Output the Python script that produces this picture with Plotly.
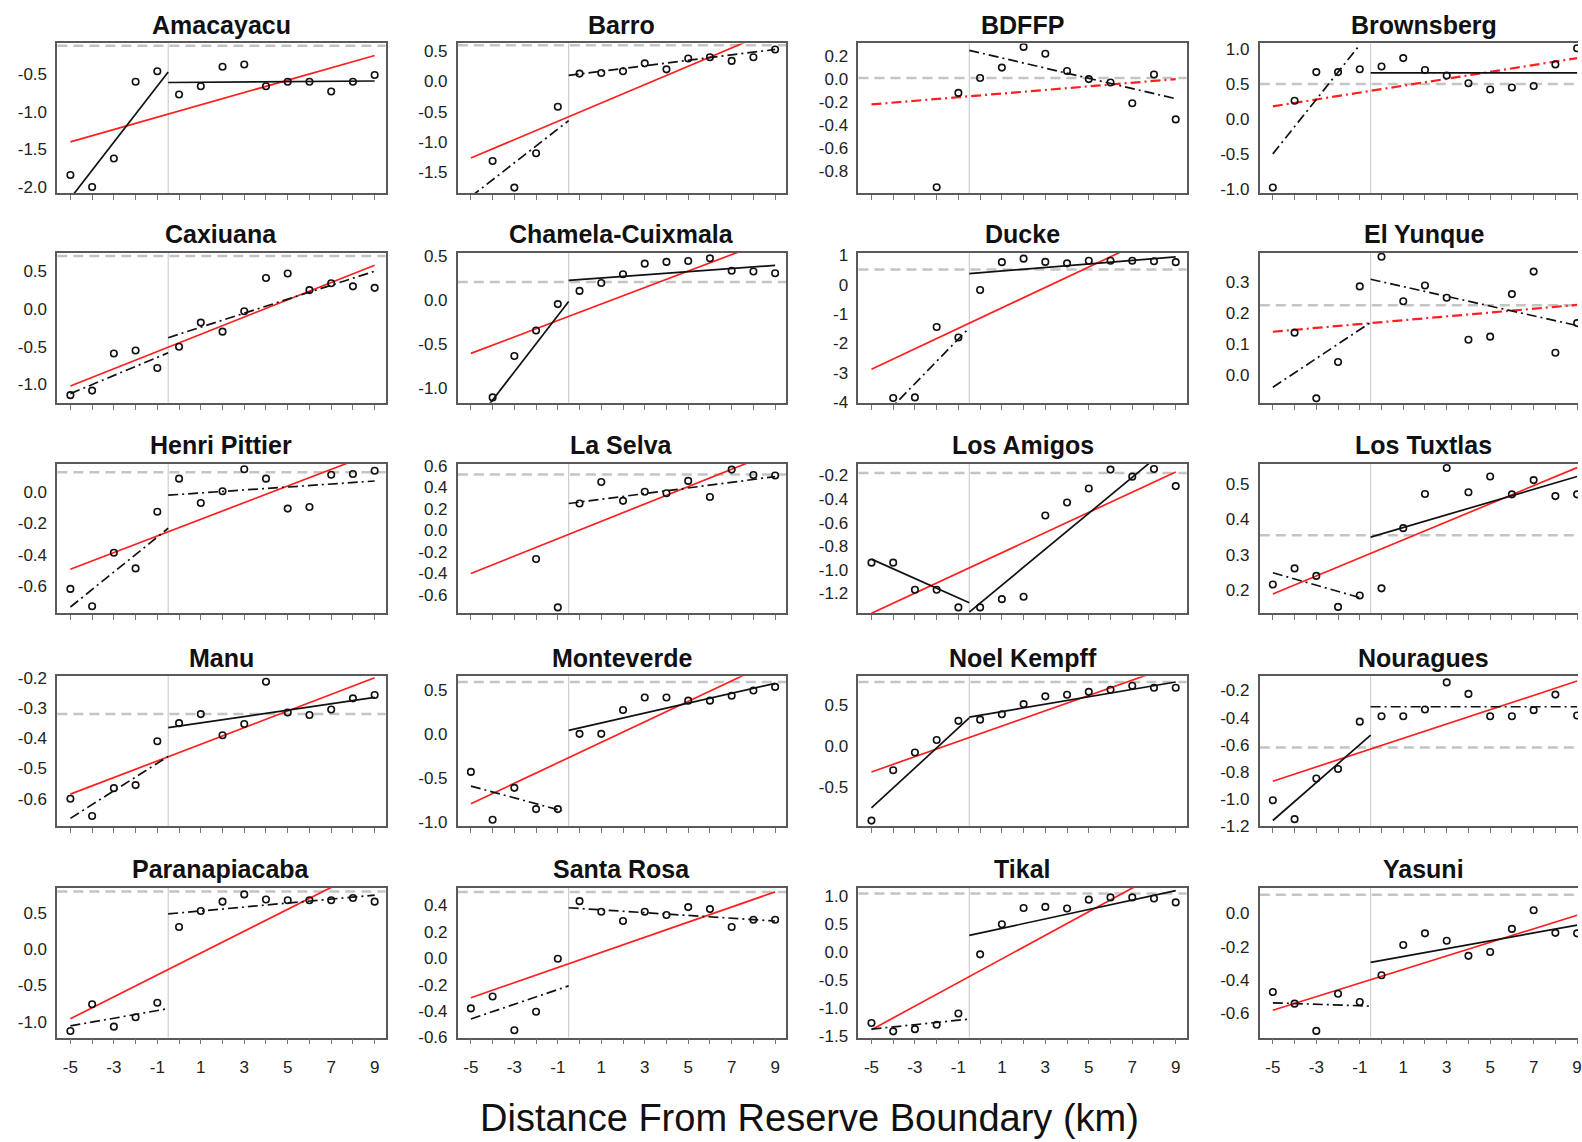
import plotly.graph_objects as go

# ---------------- data ----------------
sites = ["Amacayacu", "Barro", "BDFFP", "Brownsberg",
         "Caxiuana", "Chamela-Cuixmala", "Ducke", "El Yunque",
         "Henri Pittier", "La Selva", "Los Amigos", "Los Tuxtlas",
         "Manu", "Monteverde", "Noel Kempff", "Nouragues",
         "Paranapiacaba", "Santa Rosa", "Tikal", "Yasuni"]

distance_km = [-5, -4, -3, -2, -1, 0, 1, 2, 3, 4, 5, 6, 7, 8, 9]
boundary_km = -0.5
x_tick_text = ["-5", "", "-3", "", "-1", "", "1", "", "3", "", "5", "", "7", "", "9"]
x_axis_title = "Distance From Reserve Boundary (km)"

amacayacu = [-1.84, -2.00, -1.62, -0.60, -0.46, -0.77, -0.66, -0.40, -0.37, -0.66, -0.60, -0.60, -0.73, -0.60, -0.51]
barro = [None, -1.32, -1.76, -1.19, -0.42, 0.13, 0.14, 0.17, 0.30, 0.20, 0.38, 0.40, 0.34, 0.40, 0.53]
bdffp = [None, None, None, -0.94, -0.12, 0.01, 0.10, 0.28, 0.22, 0.07, 0.00, -0.03, -0.21, 0.04, -0.35]
brownsberg = [-0.98, 0.26, 0.67, 0.67, 0.71, 0.75, 0.87, 0.70, 0.62, 0.51, 0.42, 0.45, 0.47, 0.78, 1.01]
caxiuana = [-1.14, -1.08, -0.59, -0.55, -0.78, -0.50, -0.18, -0.30, -0.03, 0.41, 0.47, 0.25, 0.34, 0.30, 0.28]
chamela = [None, -1.11, -0.64, -0.35, -0.05, 0.10, 0.19, 0.29, 0.41, 0.43, 0.44, 0.47, 0.33, 0.32, 0.30]
ducke = [None, -3.86, -3.84, -1.44, -1.80, -0.18, 0.77, 0.89, 0.78, 0.73, 0.82, 0.82, 0.82, 0.80, 0.77]
el_yunque = [None, 0.137, -0.076, 0.042, 0.287, 0.383, 0.239, 0.290, 0.250, 0.114, 0.124, 0.262, 0.335, 0.072, 0.168]
henri_pittier = [-0.615, -0.725, -0.385, -0.485, -0.125, 0.085, -0.070, 0.005, 0.145, 0.085, -0.105, -0.095, 0.110, 0.115, 0.135]
la_selva = [None, None, None, -0.265, -0.715, 0.25, 0.45, 0.275, 0.36, 0.345, 0.46, 0.31, 0.565, 0.515, 0.51]
los_amigos = [-0.94, -0.94, -1.17, -1.17, -1.32, -1.32, -1.25, -1.23, -0.54, -0.43, -0.31, -0.15, -0.21, -0.145, -0.29]
los_tuxtlas = [0.217, 0.262, 0.241, 0.154, 0.186, 0.206, 0.375, 0.471, 0.544, 0.476, 0.520, 0.470, 0.510, 0.465, 0.470]
manu = [-0.600, -0.657, -0.565, -0.555, -0.410, -0.350, -0.320, -0.390, -0.353, -0.213, -0.315, -0.323, -0.305, -0.268, -0.257]
monteverde = [-0.43, -0.97, -0.61, -0.85, -0.85, 0.00, 0.00, 0.27, 0.41, 0.41, 0.375, 0.375, 0.43, 0.49, 0.53]
noel_kempff = [-0.915, -0.30, -0.083, 0.07, 0.305, 0.32, 0.385, 0.51, 0.605, 0.625, 0.66, 0.685, 0.735, 0.71, 0.71]
nouragues = [-1.01, -1.15, -0.85, -0.78, -0.43, -0.39, -0.39, -0.34, -0.14, -0.225, -0.39, -0.39, -0.345, -0.23, -0.385]
paranapiacaba = [-1.13, -0.76, -1.07, -0.94, -0.74, 0.31, 0.53, 0.66, 0.76, 0.69, 0.68, 0.68, 0.68, 0.71, 0.66]
santa_rosa = [-0.38, -0.29, -0.545, -0.405, -0.005, 0.43, 0.35, 0.28, 0.35, 0.325, 0.385, 0.37, 0.235, 0.29, 0.29]
tikal = [-1.27, -1.42, -1.38, -1.30, -1.10, -0.04, 0.50, 0.79, 0.81, 0.78, 0.94, 0.98, 0.98, 0.96, 0.89]
yasuni = [-0.475, -0.545, -0.71, -0.485, -0.535, -0.373, -0.19, -0.12, -0.165, -0.256, -0.233, -0.093, 0.02, -0.117, -0.12]

site_points = [amacayacu, barro, bdffp, brownsberg, caxiuana, chamela, ducke, el_yunque,
               henri_pittier, la_selva, los_amigos, los_tuxtlas, manu, monteverde,
               noel_kempff, nouragues, paranapiacaba, santa_rosa, tikal, yasuni]

# overall linear fit: value at x=-5 and at x=9
overall_fit = [(-1.40, -0.25), (-1.27, 0.86), (-0.22, 0.00), (0.18, 0.87),
               (-1.02, 0.58), (-0.61, 0.70), (-2.88, 2.00), (0.140, 0.227),
               (-0.49, 0.25), (-0.40, 0.73), (-1.37, -0.17), (0.19, 0.545),
               (-0.585, -0.200), (-0.79, 0.83), (-0.32, 0.99), (-0.87, -0.13),
               (-0.96, 1.16), (-0.30, 0.50), (-1.39, 1.57), (-0.585, -0.01)]

# piecewise fit outside the reserve: (x0, y0, x1, y1); None = no fit drawn
outside_fit = [(-5, -2.15, -0.5, -0.47), (-5, -1.91, -0.5, -0.65), None, (-5, -0.50, -1.1, 1.02),
               (-5, -1.12, -0.5, -0.58), (-5, -1.46, -0.5, -0.02), (-5, -4.89, -0.5, -1.47), (-5, -0.04, -0.5, 0.17),
               (-5, -0.73, -0.5, -0.23), None, (-5, -0.91, -0.5, -1.28), (-5, 0.25, -1.0, 0.18),
               (-5, -0.665, -0.5, -0.46), (-5, -0.59, -0.8, -0.87), (-5, -0.76, -0.5, 0.34), (-5, -1.16, -0.5, -0.53),
               (-5, -1.06, -0.5, -0.82), (-5, -0.46, -0.5, -0.21), (-5, -1.38, -0.5, -1.20), (-5, -0.54, -0.5, -0.56)]

# piecewise fit inside the reserve: value at x=-0.5 and at x=9
inside_fit = [(-0.61, -0.59), (0.10, 0.53), (0.25, -0.17), (0.66, 0.66),
              (-0.38, 0.50), (0.22, 0.39), (0.38, 0.95), (0.31, 0.16),
              (-0.02, 0.07), (0.25, 0.50), (-1.36, 0.09), (0.35, 0.52),
              (-0.365, -0.265), (0.04, 0.57), (0.35, 0.78), (-0.32, -0.32),
              (0.49, 0.75), (0.38, 0.28), (0.30, 1.10), (-0.295, -0.07)]

reference_level = [-0.12, 0.60, 0.01, 0.50, 0.70, 0.20, 0.52, 0.226, 0.125, 0.52,
                   -0.18, 0.355, -0.32, 0.585, 0.78, -0.62, 0.80, 0.50, 1.05, 0.113]

y_ranges = [(-2.08, -0.09), (-1.85, 0.63), (-0.99, 0.31), (-1.06, 1.08),
            (-1.24, 0.74), (-1.17, 0.53), (-4.02, 1.08), (-0.09, 0.395),
            (-0.77, 0.18), (-0.77, 0.62), (-1.37, -0.10), (0.136, 0.556),
            (-0.69, -0.195), (-1.04, 0.65), (-0.98, 0.85), (-1.20, -0.095),
            (-1.22, 0.85), (-0.60, 0.53), (-1.53, 1.15), (-0.75, 0.155)]

y_tick_values = [[-2.0, -1.5, -1.0, -0.5], [-1.5, -1.0, -0.5, 0.0, 0.5],
                 [-0.8, -0.6, -0.4, -0.2, 0.0, 0.2], [-1.0, -0.5, 0.0, 0.5, 1.0],
                 [-1.0, -0.5, 0.0, 0.5], [-1.0, -0.5, 0.0, 0.5],
                 [-4, -3, -2, -1, 0, 1], [0.0, 0.1, 0.2, 0.3],
                 [-0.6, -0.4, -0.2, 0.0], [-0.6, -0.4, -0.2, 0.0, 0.2, 0.4, 0.6],
                 [-1.2, -1.0, -0.8, -0.6, -0.4, -0.2], [0.2, 0.3, 0.4, 0.5],
                 [-0.6, -0.5, -0.4, -0.3, -0.2], [-1.0, -0.5, 0.0, 0.5],
                 [-0.5, 0.0, 0.5], [-1.2, -1.0, -0.8, -0.6, -0.4, -0.2],
                 [-1.0, -0.5, 0.0, 0.5], [-0.6, -0.4, -0.2, 0.0, 0.2, 0.4],
                 [-1.5, -1.0, -0.5, 0.0, 0.5, 1.0], [-0.6, -0.4, -0.2, 0.0]]

# ---------------- styles ----------------
overall_dashed = {"BDFFP", "Brownsberg", "El Yunque"}
outside_solid = {"Amacayacu", "Chamela-Cuixmala", "Los Amigos", "Noel Kempff", "Nouragues"}
inside_solid = {"Amacayacu", "Brownsberg", "Chamela-Cuixmala", "Ducke", "Los Amigos", "Los Tuxtlas",
                "Manu", "Monteverde", "Noel Kempff", "Tikal", "Yasuni"}
DASHDOT = "10px,4px,2px,4px"
RED = "#ff1f1f"
FONT = "Liberation Sans, Arial, Helvetica, sans-serif"

W, H = 1582, 1142
col_left = [57.5, 459.0, 860.6, 1263.0]
col_w = 329.0
row_top = [36.0, 249.0, 463.0, 679.0, 894.0]
row_h = 152.0
x_lo, x_hi = -5.6, 9.5
units_per_px = (x_hi - x_lo) / col_w

fig = go.Figure()
layout = {}
shapes = []
annotations = []

for i, site in enumerate(sites):
    r, c = divmod(i, 4)
    n = i + 1
    sfx = "" if n == 1 else str(n)
    xref, yref = "x" + sfx, "y" + sfx

    left_px = col_left[c]
    right_px = min(left_px + col_w, W)
    x_hi_here = x_lo + (right_px - left_px) * units_per_px
    top_px = row_top[r]
    bot_px = top_px + row_h

    layout["xaxis" + sfx] = dict(
        domain=[left_px / W, right_px / W], range=[x_lo, x_hi_here], anchor=yref,
        tickvals=distance_km, ticktext=x_tick_text if r == 4 else [""] * len(distance_km),
        ticks="outside", ticklen=5, tickwidth=1, tickcolor="#777",
        showline=True, linecolor="#5a5a5a", linewidth=1.8, mirror=True,
        showgrid=False, zeroline=False, ticklabelstandoff=8, ticklabeloverflow="allow",
        tickfont=dict(family=FONT, size=17, color="#222"))

    dec = 0 if all(float(v).is_integer() for v in y_tick_values[i]) and max(abs(v) for v in y_tick_values[i]) > 1 else 1
    layout["yaxis" + sfx] = dict(
        domain=[1 - bot_px / H, 1 - top_px / H], range=list(y_ranges[i]), anchor=xref,
        tickvals=y_tick_values[i], ticktext=[f"{v:.{dec}f}" for v in y_tick_values[i]],
        ticks="", showline=True, linecolor="#5a5a5a", linewidth=1.8, mirror=(c < 3),
        showgrid=False, zeroline=False, ticklabelstandoff=5,
        tickfont=dict(family=FONT, size=17, color="#222"))

    # boundary line and reference level
    shapes.append(dict(type="line", xref=xref, yref=yref + " domain", x0=boundary_km, x1=boundary_km,
                       y0=0, y1=1, line=dict(color="#c6c6c6", width=1), layer="below"))
    shapes.append(dict(type="line", xref=xref + " domain", yref=yref, x0=0, x1=1,
                       y0=reference_level[i], y1=reference_level[i],
                       line=dict(color="#c4c4c4", width=2.5, dash="10px,6px"), layer="below"))

    # overall fit
    y5, y9 = overall_fit[i]
    fig.add_trace(go.Scatter(x=[distance_km[0], distance_km[-1]], y=[y5, y9], mode="lines",
                             line=dict(color=RED, width=2.2 if site in overall_dashed else 1.7,
                                       dash=DASHDOT if site in overall_dashed else "solid"),
                             xaxis=xref, yaxis=yref, hoverinfo="skip"))
    # outside fit
    if outside_fit[i] is not None:
        ox0, oy0, ox1, oy1 = outside_fit[i]
        fig.add_trace(go.Scatter(x=[ox0, ox1], y=[oy0, oy1], mode="lines",
                                 line=dict(color="#111", width=1.7,
                                           dash="solid" if site in outside_solid else DASHDOT),
                                 xaxis=xref, yaxis=yref, hoverinfo="skip"))
    # inside fit
    iy0, iy1 = inside_fit[i]
    fig.add_trace(go.Scatter(x=[boundary_km, distance_km[-1]], y=[iy0, iy1], mode="lines",
                             line=dict(color="#111", width=1.7,
                                       dash="solid" if site in inside_solid else DASHDOT),
                             xaxis=xref, yaxis=yref, hoverinfo="skip"))
    # points
    fig.add_trace(go.Scatter(x=distance_km, y=site_points[i], mode="markers",
                             marker=dict(symbol="circle-open", size=6.5, color="#111",
                                         line=dict(width=1.6, color="#111")),
                             xaxis=xref, yaxis=yref))

    annotations.append(dict(text=f"<b>{site}</b>", xref="paper", yref="paper",
                            x=(left_px + col_w / 2) / W, y=1 - (top_px - 19) / H,
                            xanchor="center", yanchor="middle", showarrow=False,
                            font=dict(family=FONT, size=25, color="#111")))

annotations.append(dict(text=x_axis_title, xref="paper", yref="paper",
                        x=812 / W, y=1 - 1128 / H, xanchor="center", yanchor="middle",
                        showarrow=False, font=dict(family=FONT, size=38, color="#111")))

fig.update_layout(**layout)
fig.update_layout(width=W, height=H, margin=dict(l=0, r=0, t=0, b=0),
                  paper_bgcolor="white", plot_bgcolor="white", showlegend=False,
                  shapes=shapes, annotations=annotations)

fig.write_html("out.html", config={"displayModeBar": False},
               post_script="document.body.style.margin='0px';document.body.style.overflow='hidden';")
